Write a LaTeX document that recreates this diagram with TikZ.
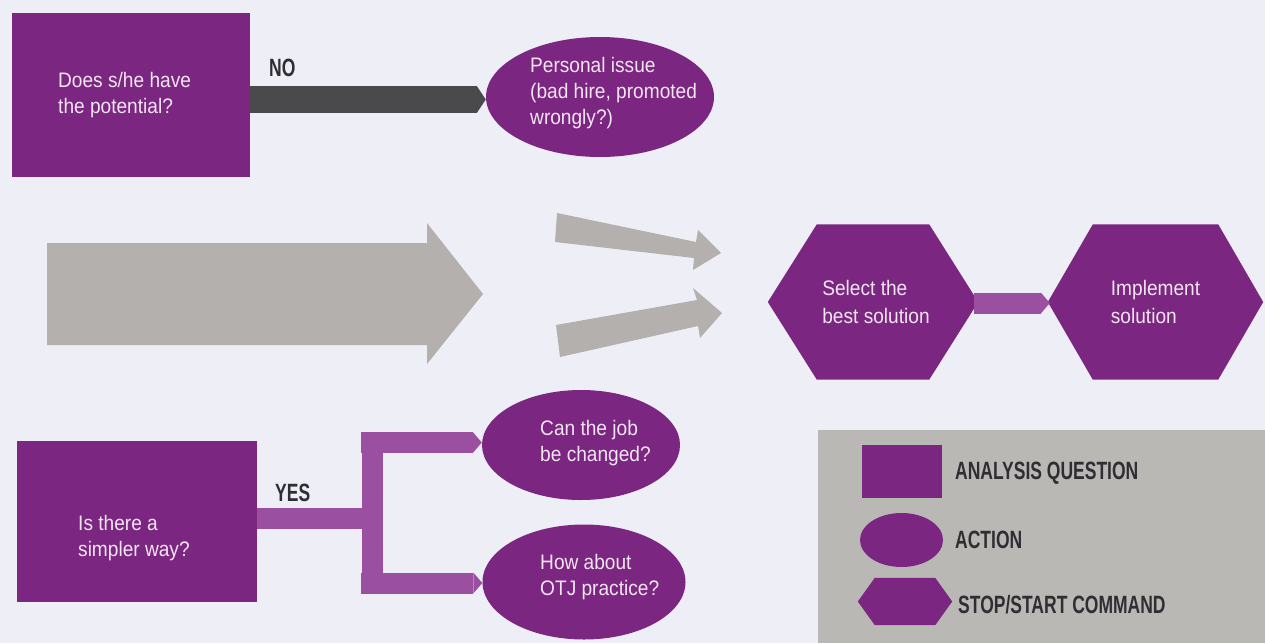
\documentclass[tikz,border=0pt]{standalone}
\usepackage{fontspec}
\setmainfont{Liberation Sans}[FakeStretch=0.91]
\newfontfamily\legfont{Liberation Sans}[FakeStretch=0.7]
\usetikzlibrary{arrows.meta,shapes.geometric,backgrounds,calc}
\definecolor{bg}{HTML}{EEEFF6}
\definecolor{purp}{HTML}{7B2681}
\definecolor{lpurp}{HTML}{9B4FA1}
\definecolor{dbar}{HTML}{4A494B}
\definecolor{agrey}{HTML}{B4B0AD}
\definecolor{leggrey}{HTML}{BAB8B5}
\definecolor{intxt}{HTML}{F3E5F1}
\definecolor{labtxt}{HTML}{2F2E33}
\newcommand\hexfill[2]{%
  \fill[purp] (#1.west) -- ([xshift=#2]#1.north west) -- ([xshift=-#2]#1.north east)
    -- (#1.east) -- ([xshift=-#2]#1.south east) -- ([xshift=#2]#1.south west) -- cycle;}
\tikzset{
  qbox/.style={rectangle, fill=purp, inner sep=0pt},
  act/.style={ellipse, fill=purp, inner sep=0pt},
  hexbox/.style={rectangle, inner sep=0pt, text=intxt, align=left,
    font=\fontsize{21}{28}\selectfont},
  btext/.style={text=intxt, align=left, inner sep=0pt, anchor=west,
    font=\fontsize{21}{26}\selectfont},
  lab/.style={text=labtxt, inner sep=0pt, anchor=west,
    font=\legfont\bfseries\fontsize{25}{28}\selectfont},
  darrow/.style={draw=dbar, line width=27pt,
    -{Triangle[length=9pt,width=27pt,line width=0pt]}},
  parrow/.style={draw=lpurp, line width=21pt,
    -{Triangle[length=9pt,width=21pt,line width=0pt]}},
  pbar/.style={draw=lpurp, line width=21pt},
}
\begin{document}
\begin{tikzpicture}[x=1pt,y=-1pt]
\begin{scope}[on background layer]
  \fill[bg] (0,0) rectangle (1265,643);
\end{scope}
\useasboundingbox (0,0) rectangle (1265,643);

% legend panel
\fill[leggrey] (818,430) rectangle (1265,643);

% grey decorative arrows
\fill[agrey] (47,243) -- (427,243) -- (427,223) -- (483,294) -- (427,364)
  -- (427,345) -- (47,345) -- cycle;
\fill[agrey] (557,213) -- (696,242) -- (698,230) -- (721,253) -- (693,270)
  -- (694,258) -- (555,242) -- cycle;
\fill[agrey] (556,325) -- (697,300) -- (693,288) -- (722,313) -- (700,338)
  -- (698,326) -- (560,357) -- cycle;

% question boxes
\node[qbox, minimum width=238pt, minimum height=164pt] (q1) at (131,95) {};
\node[btext] (q1t) at (58,95) {Does s/he have\\the potential?};
\node[qbox, minimum width=240pt, minimum height=161pt] (q2) at (137,521.5) {};
\node[btext] (q2t) at (78,538) {Is there a\\simpler way?};

% actions
\node[act, minimum width=228pt, minimum height=120pt] (pi) at (600,97) {};
\node[btext] (pit) at (530,93) {Personal issue\\(bad hire, promoted\\wrongly?)};
\node[act, minimum width=198pt, minimum height=110pt] (c1) at (581,445) {};
\node[btext] (c1t) at (540,443) {Can the job\\be changed?};
\node[act, minimum width=203pt, minimum height=115pt] (c2) at (584,582) {};
\node[btext] (c2t) at (540,577) {How about\\OTJ practice?};

% stop/start hexagons
\node[hexbox, minimum width=210pt, minimum height=155pt] (sel) at (873,302)
  {\hspace*{6pt}Select the\\\hspace*{6pt}best solution};
\node[hexbox, minimum width=215pt, minimum height=155pt] (imp) at (1155.5,302)
  {Implement\\solution};
\begin{scope}[on background layer]
  \hexfill{sel}{49pt}
  \hexfill{imp}{45pt}
\end{scope}

% connectors
\draw[darrow] ([yshift=-4.5pt]q1.east) -- ([yshift=-4.5pt]q1.east -| pi.west);
\node[lab] (no) at (269,68) {NO};

\coordinate (j) at (372,518.5);
\coordinate (ju) at (372,432);
\coordinate (jd) at (372,594);
\coordinate (bu) at (361,442.5);
\coordinate (bd) at (361,583);
\draw[pbar] (q2.east |- j) -- (j);
\draw[pbar] (ju) -- (jd);
\draw[parrow] (bu) -- (bu -| c1.west);
\draw[parrow] (bd) -- (bd -| c2.west);
\node[lab] (yes) at (275,493) {YES};

\draw[parrow] ([yshift=-1pt]sel.east) ++(-4,0) -- ([xshift=2pt,yshift=-1pt]imp.west);

% legend
\node[qbox, minimum width=80pt, minimum height=53pt] (lq) at (902,471.5) {};
\node[lab] (lqt) at (955,473) {ANALYSIS QUESTION};
\node[act, minimum width=83pt, minimum height=54pt] (la) at (901.5,540) {};
\node[lab] (lat) at (955,540) {ACTION};
\node[rectangle, inner sep=0pt, minimum width=94pt, minimum height=47pt] (lh) at (905,601.5) {};
\hexfill{lh}{17pt}
\node[lab] (lht) at (958,605) {STOP/START COMMAND};
\end{tikzpicture}
\end{document}
